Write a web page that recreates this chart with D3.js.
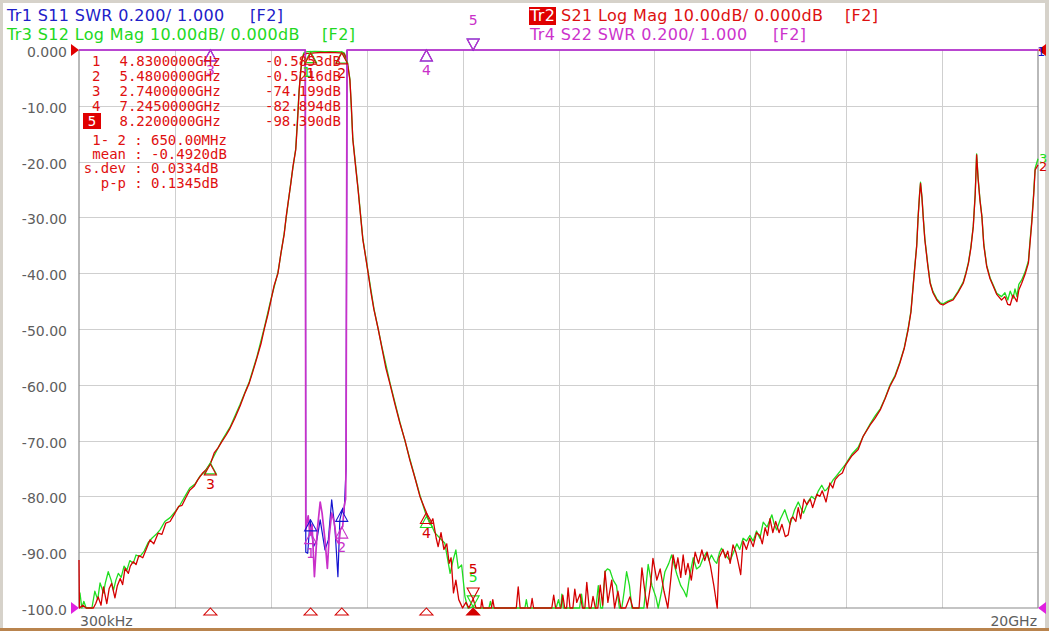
<!DOCTYPE html>
<html>
<head>
<meta charset="utf-8">
<script src="https://cdn.jsdelivr.net/npm/d3@7"></script>
<style>
  body { margin: 0; background: #fff; }
  svg { display: block; }
</style>
</head>
<body>
<script>
// sweep and axes
const startGHz = 0.0003;
const stopGHz = 20;
const xDivisions = 10;
const yTicks = [0, -10, -20, -30, -40, -50, -60, -70, -80, -90, -100];
const yTickLabels = ["0.000", "-10.00", "-20.00", "-30.00", "-40.00", "-50.00", "-60.00", "-70.00", "-80.00", "-90.00", "-100.0"];
const xLabels = ["300kHz", "20GHz"];

// Tr2 S21 log mag (GHz, dB)
const s21 = [
  [0.0003,-91.4],[0.01,-100],[0.08,-99.5],[0.15,-100],[0.23,-100],[0.30,-100],[0.35,-99.2],[0.40,-98],[0.46,-99.5],
  [0.51,-96.2],[0.58,-99.2],[0.63,-96.5],[0.68,-95.6],[0.75,-98.2],[0.80,-96],[0.86,-94.7],[0.91,-95.8],[0.96,-92.9],
  [1.03,-93.8],[1.07,-92.5],[1.13,-91.7],[1.19,-92.2],[1.25,-90.6],[1.33,-91],[1.40,-89.5],[1.48,-87.8],[1.56,-88.5],
  [1.65,-86.6],[1.73,-86.8],[1.81,-84.8],[1.90,-84.5],[1.98,-83.3],[2.08,-81.8],[2.15,-81.6],[2.23,-80.2],[2.31,-78.9],
  [2.40,-78.2],[2.48,-77],[2.57,-75.9],[2.65,-75.2],[2.74,-74.2],[2.82,-72.2],[2.90,-71.3],[2.98,-70.2],[3.07,-69.0],
  [3.15,-67.8],[3.25,-66],[3.36,-63.8],[3.46,-61.5],[3.55,-59.7],[3.63,-57.5],[3.71,-55.2],[3.80,-52.5],[3.87,-49.8],
  [3.94,-47.4],[4.00,-45],[4.07,-42.2],[4.15,-40],[4.21,-36.5],[4.28,-33],[4.32,-29.9],[4.37,-26.8],[4.42,-23.8],
  [4.46,-21],[4.52,-17.9],[4.56,-12.5],[4.59,-7.5],[4.62,-4],[4.65,-1.8],[4.69,-0.8],[4.76,-0.6],[4.83,-0.585],
  [4.92,-0.5],[5.03,-0.45],[5.13,-0.48],[5.23,-0.42],[5.34,-0.47],[5.44,-0.5],[5.48,-0.52],[5.53,-0.7],[5.57,-1.5],
  [5.61,-3],[5.65,-5.4],[5.68,-10],[5.71,-16],[5.77,-21],[5.82,-25],[5.87,-29.5],[5.92,-34],[5.98,-37.2],[6.03,-40],
  [6.09,-43.5],[6.15,-46.5],[6.24,-50],[6.32,-53.5],[6.40,-57],[6.49,-60],[6.59,-63.5],[6.69,-66.8],[6.80,-70],
  [6.90,-73.5],[7.01,-76.8],[7.11,-80],[7.17,-81.3],[7.245,-82.9],[7.32,-85],[7.38,-84],[7.45,-87.5],[7.49,-89],
  [7.55,-86.5],[7.61,-89.5],[7.67,-88.5],[7.72,-92],[7.76,-91],[7.81,-97.3],[7.86,-95],[7.92,-98.5],[8.00,-100],
  [8.07,-99],[8.13,-100],[8.22,-98.4],[8.28,-100],[8.38,-100],[8.40,-98.5],[8.43,-100],[8.60,-100],[8.63,-98.5],
  [8.66,-100],[9.12,-100],[9.16,-96.2],[9.20,-100],[9.42,-100],[9.45,-98.3],[9.48,-100],[9.86,-100],[9.90,-97.7],
  [9.94,-100],[10.05,-100],[10.09,-97.7],[10.13,-100],[10.17,-100],[10.20,-96.4],[10.24,-100],[10.30,-100],[10.34,-96.6],
  [10.38,-99],[10.45,-97.5],[10.50,-100],[10.55,-100],[10.59,-95.4],[10.64,-100],[10.68,-100],[10.72,-97.9],[10.77,-100],
  [10.82,-100],[10.87,-95.9],[10.92,-99.5],[10.97,-93.4],[11.03,-99],[11.11,-95],[11.17,-100],[11.24,-97],[11.30,-100],
  [11.40,-100],[11.49,-98],[11.55,-100],[11.68,-100],[11.74,-92.8],[11.80,-97],[11.85,-100],[11.92,-96],[11.97,-91.1],
  [12.05,-95],[12.12,-93],[12.20,-97],[12.28,-100],[12.34,-95],[12.39,-90.5],[12.45,-93],[12.49,-91],[12.55,-94.5],
  [12.60,-90.5],[12.65,-94],[12.70,-92],[12.77,-95],[12.85,-90],[12.92,-92],[12.99,-89.6],[13.05,-91.5],[13.10,-90],
  [13.17,-92.5],[13.24,-96],[13.31,-100],[13.35,-91],[13.43,-89.5],[13.48,-91],[13.53,-89.8],[13.58,-92],[13.64,-88.7],
  [13.70,-90],[13.74,-91.5],[13.80,-94],[13.85,-88],[13.92,-89.5],[13.99,-87.5],[14.06,-89],[14.13,-86.5],[14.20,-87],
  [14.25,-88.5],[14.31,-85.6],[14.36,-87],[14.41,-84],[14.47,-86.5],[14.53,-84.5],[14.60,-86.5],[14.66,-85],[14.73,-87.2],
  [14.79,-86.9],[14.85,-84],[14.89,-83.7],[14.95,-84.5],[15.00,-82],[15.05,-84],[15.12,-80.5],[15.18,-81.5],[15.25,-80.5],
  [15.30,-82],[15.39,-79.6],[15.45,-80],[15.50,-79],[15.58,-81],[15.66,-77.6],[15.72,-78.5],[15.77,-77],[15.85,-76.2],
  [15.92,-75.8],[15.98,-74.5],[16.12,-72.7],[16.25,-71.6],[16.35,-69.3],[16.50,-67.2],[16.60,-66],[16.71,-64.5],
  [16.81,-62.5],[16.91,-60.3],[17.02,-58.5],[17.12,-56.1],[17.21,-53.5],[17.29,-50.2],[17.35,-47],[17.39,-43],
  [17.43,-39],[17.47,-35.2],[17.50,-30],[17.53,-26],[17.55,-23.9],[17.58,-26.5],[17.61,-30.5],[17.64,-34],[17.70,-38.5],
  [17.75,-41.8],[17.81,-43.5],[17.89,-44.8],[17.96,-45.5],[18.02,-45.7],[18.12,-45.2],[18.23,-44.8],[18.33,-43.5],
  [18.44,-41.8],[18.50,-40],[18.55,-38.2],[18.60,-35.5],[18.65,-31.7],[18.69,-26],[18.72,-18.8],[18.75,-23],[18.79,-27],
  [18.83,-29.9],[18.87,-35],[18.93,-38.8],[19.00,-41],[19.07,-42.4],[19.14,-43.8],[19.24,-44.8],[19.31,-44.2],
  [19.37,-45.6],[19.42,-45.7],[19.48,-43.9],[19.56,-45.1],[19.60,-43],[19.66,-41.8],[19.73,-40.2],[19.80,-38.2],
  [19.83,-35],[19.87,-31],[19.91,-26],[19.94,-21.5],[20.00,-20.6]
];

// Tr3 S12 log mag (GHz, dB)
const s12 = [
  [0.0003,-97.3],[0.02,-97.3],[0.06,-100],[0.10,-98.8],[0.15,-100],[0.27,-100],[0.33,-97],[0.39,-98.5],[0.44,-95.5],
  [0.51,-97.3],[0.55,-95.5],[0.61,-93.5],[0.67,-95],[0.72,-96.8],[0.77,-95],[0.82,-93.8],[0.88,-94.5],[0.94,-92.5],
  [1.00,-93.2],[1.06,-91.5],[1.13,-92],[1.19,-90.5],[1.27,-90.8],[1.36,-89.8],[1.44,-88.3],[1.52,-87.5],[1.61,-86.8],
  [1.69,-86],[1.79,-84.5],[1.90,-83.8],[2.00,-82.8],[2.11,-81.5],[2.21,-80],[2.31,-78.5],[2.42,-77.8],[2.52,-76.4],
  [2.63,-75.5],[2.74,-74.0],[2.86,-72],[2.98,-70],[3.15,-67.6],[3.36,-63.5],[3.55,-59.5],[3.71,-55],[3.87,-49.6],
  [4.00,-44.8],[4.15,-39.8],[4.28,-32.8],[4.42,-23.6],[4.52,-17.7],[4.59,-7.3],[4.65,-1.6],[4.69,-0.5],[4.76,-0.3],
  [4.92,-0.25],[5.13,-0.3],[5.34,-0.28],[5.48,-0.35],[5.53,-0.5],[5.57,-1.3],[5.61,-2.8],[5.65,-5.2],[5.71,-15.8],
  [5.82,-24.8],[5.92,-33.8],[6.03,-39.8],[6.15,-46.3],[6.32,-53.3],[6.49,-59.8],[6.69,-66.6],[6.90,-73.3],[7.11,-79.8],
  [7.245,-83.5],[7.32,-84.5],[7.42,-86.5],[7.53,-87.5],[7.63,-88.4],[7.74,-93.8],[7.80,-91.5],[7.86,-89.6],[7.91,-92.9],
  [7.98,-92.3],[8.05,-98],[8.11,-100],[8.22,-99.8],[8.28,-100],[8.55,-100],[8.58,-98.8],[8.61,-100],[9.30,-100],
  [9.33,-98.5],[9.36,-100],[9.95,-100],[10.00,-98.5],[10.04,-100],[10.05,-100],[10.07,-97.5],[10.10,-100],[10.44,-100],
  [10.48,-97.5],[10.52,-100],[10.78,-100],[10.83,-96],[10.88,-100],[10.92,-100],[10.97,-93.5],[11.02,-93],[11.07,-93.2],
  [11.14,-95],[11.21,-96],[11.27,-100],[11.32,-100],[11.37,-97],[11.42,-93.5],[11.48,-96],[11.53,-100],[11.78,-100],
  [11.87,-92.2],[11.95,-96],[12.03,-98],[12.08,-100],[12.15,-97],[12.22,-93.5],[12.30,-92],[12.36,-90.5],[12.42,-92.5],
  [12.47,-94],[12.55,-96],[12.62,-97],[12.67,-98],[12.74,-94],[12.81,-91],[12.88,-93],[12.95,-92.5],[13.02,-91],
  [13.09,-90],[13.14,-91.5],[13.19,-90.5],[13.25,-91.5],[13.30,-92],[13.36,-90],[13.40,-89.3],[13.48,-90.5],[13.58,-91.5],
  [13.65,-90],[13.72,-88.5],[13.78,-89.5],[13.85,-87.5],[13.92,-88],[13.99,-87],[14.06,-88],[14.13,-86.2],[14.20,-87.5],
  [14.27,-84.6],[14.35,-85.5],[14.45,-83.3],[14.50,-85],[14.55,-86],[14.63,-84],[14.72,-82.4],[14.78,-84],[14.83,-85],
  [14.92,-82.5],[15.00,-81],[15.05,-82],[15.11,-83],[15.20,-81],[15.28,-80],[15.35,-80.5],[15.42,-79],[15.49,-78],
  [15.55,-79],[15.59,-78.8],[15.66,-78],[15.73,-77],[15.80,-76.3],[15.87,-75.5],[15.98,-74.3],[16.12,-72.4],[16.25,-71.2],
  [16.35,-69.3],[16.50,-67],[16.60,-65.6],[16.71,-64.3],[16.81,-62.4],[16.91,-60.1],[17.02,-58.3],[17.12,-55.9],
  [17.21,-53.4],[17.29,-50],[17.35,-46.8],[17.39,-42.8],[17.43,-38.8],[17.47,-35],[17.50,-29.8],[17.53,-25.8],
  [17.55,-23.7],[17.58,-26.3],[17.61,-30.3],[17.64,-33.8],[17.70,-38.3],[17.75,-41.6],[17.81,-43.3],[17.89,-44.6],
  [17.96,-45.3],[18.02,-45.5],[18.12,-45],[18.23,-44.6],[18.33,-43.3],[18.44,-41.6],[18.50,-39.8],[18.55,-38],
  [18.60,-35.3],[18.65,-31.5],[18.69,-25.8],[18.72,-18.6],[18.75,-22.8],[18.79,-26.8],[18.83,-29.7],[18.87,-34.8],
  [18.93,-38.6],[19.00,-40.8],[19.07,-42.2],[19.14,-43.6],[19.24,-44.2],[19.31,-43.5],[19.37,-44.8],[19.42,-43.2],
  [19.48,-44.5],[19.52,-42.8],[19.56,-44.2],[19.60,-42],[19.66,-41.2],[19.73,-39.8],[19.80,-37.8],[19.83,-34.6],
  [19.87,-30.6],[19.91,-25.6],[19.94,-21.2],[20.00,-19.5]
];

// Tr1 S11 SWR (GHz, SWR) - off scale outside the passband
const s11 = [
  [0.0003,8],[4.72,8],[4.73,1.20],[4.77,1.196],[4.82,1.316],[4.89,1.22],[4.96,1.244],[5.03,1.316],[5.13,1.208],
  [5.20,1.244],[5.27,1.388],[5.34,1.28],[5.40,1.112],[5.44,1.316],[5.50,1.358],[5.53,1.34],[5.57,1.50],[5.59,8],[20,8]
];

// Tr4 S22 SWR (GHz, SWR)
const s22 = [
  [0.0003,8],[4.72,8],[4.73,1.28],[4.78,1.33],[4.82,1.26],[4.86,1.30],[4.91,1.112],[4.97,1.28],[5.03,1.38],[5.07,1.34],
  [5.13,1.244],[5.18,1.142],[5.22,1.26],[5.27,1.34],[5.32,1.31],[5.37,1.244],[5.42,1.23],[5.45,1.28],[5.50,1.292],
  [5.53,1.364],[5.56,1.39],[5.57,1.542],[5.59,8],[20,8]
];

// markers
const markerNums = ["1", "2", "3", "4", "5"];
const markerGHz = [4.83, 5.48, 2.74, 7.245, 8.22];
const markerFreqLabels = ["4.8300000GHz", "5.4800000GHz", "2.7400000GHz", "7.2450000GHz", "8.2200000GHz"];
const markerS21 = [-0.5853, -0.5216, -74.199, -82.894, -98.390];
const markerValueLabels = ["-0.5853dB", "-0.5216dB", "-74.199dB", "-82.894dB", "-98.390dB"];
const markerS12 = [-0.30, -0.35, -74.0, -83.6, -99.8];
const markerS11 = [1.316, 1.35, 8, 8, 8];
const markerS22 = [1.27, 1.29, 8, 8, 8];
const activeMarker = 4;

// band statistics
const statLabels = ["1- 2", "mean", "s.dev", "p-p"];
const statValues = ["650.00MHz", "-0.4920dB", "0.0334dB", "0.1345dB"];

// header lines
const headerLeft = [
  { text: "Tr1 S11 SWR 0.200/ 1.000", color: "#2020c8" },
  { text: "Tr3 S12 Log Mag 10.00dB/ 0.000dB", color: "#22d822" }
];
const headerRight = [
  { tag: "Tr2", text: "S21 Log Mag 10.00dB/ 0.000dB", color: "#dd1010" },
  { tag: "Tr4", text: "S22 SWR 0.200/ 1.000", color: "#cc33cc" }
];

const colors = { s11: "#1414d0", s21: "#d40000", s12: "#20dd20", s22: "#c930c9" };

const W = 1049, H = 631;
const plot = { left: 79, right: 1038, top: 50, bottom: 608 };

const svg = d3.select("body").append("svg").attr("width", W).attr("height", H)
  .style("font-family", "'DejaVu Sans', Verdana, sans-serif");

// window frame
svg.append("rect").attr("width", W).attr("height", H).attr("fill", "#d6d2ca");
svg.append("rect").attr("x", 3).attr("y", 3).attr("width", W - 7).attr("height", H - 6).attr("fill", "#fff");
svg.append("rect").attr("x", 0).attr("y", H - 3).attr("width", W).attr("height", 3).attr("fill", "#b9844e");

const x = d3.scaleLinear().domain([startGHz, stopGHz]).range([plot.left, plot.right]);
const yDb = d3.scaleLinear().domain([-100, 0]).range([plot.bottom, plot.top]).clamp(true);
const ySwr = d3.scaleLinear().domain([1, 3]).range([plot.bottom, plot.top]).clamp(true);

// grid
const step = (stopGHz - startGHz) / xDivisions;
const grid = svg.append("g").attr("stroke", "#cfcfcf").attr("stroke-width", 1);
grid.selectAll("line.v").data(d3.range(1, xDivisions)).join("line")
  .attr("x1", k => Math.round(x(startGHz + k * step)) + 0.5)
  .attr("x2", k => Math.round(x(startGHz + k * step)) + 0.5)
  .attr("y1", plot.top).attr("y2", plot.bottom);
grid.selectAll("line.h").data(yTicks.slice(1, -1)).join("line")
  .attr("y1", d => Math.round(yDb(d)) + 0.5).attr("y2", d => Math.round(yDb(d)) + 0.5)
  .attr("x1", plot.left).attr("x2", plot.right);

// frame
const frame = svg.append("g").attr("stroke", "#8a8a8a").attr("stroke-width", 1.2).attr("fill", "none");
frame.append("line").attr("x1", plot.left).attr("x2", plot.left).attr("y1", plot.top).attr("y2", plot.bottom);
frame.append("line").attr("x1", plot.right).attr("x2", plot.right).attr("y1", plot.top).attr("y2", plot.bottom);
frame.append("line").attr("x1", plot.left).attr("x2", plot.right).attr("y1", plot.bottom).attr("y2", plot.bottom);

// y axis labels
const yAxis = svg.append("g").attr("transform", `translate(${plot.left},0)`)
  .call(d3.axisLeft(yDb).tickValues(yTicks).tickFormat((d, i) => yTickLabels[i]).tickSize(0).tickPadding(12));
yAxis.select(".domain").remove();
yAxis.selectAll("text").attr("fill", "#5e5e5e").attr("font-size", 14)
  .attr("font-family", "'DejaVu Sans', Verdana, sans-serif").attr("dy", "0.46em");

// x labels
svg.append("text").attr("x", x(startGHz) + 1).attr("y", 626).attr("font-size", 14).attr("fill", "#5e5e5e").text(xLabels[0]);
svg.append("text").attr("x", x(stopGHz) - 1).attr("y", 626).attr("font-size", 14).attr("fill", "#5e5e5e")
  .attr("text-anchor", "end").text(xLabels[1]);

// traces
const lineDb = d3.line().x(d => x(d[0])).y(d => yDb(d[1]));
const lineSwr = d3.line().x(d => x(d[0])).y(d => ySwr(d[1]));
const traces = svg.append("g").attr("fill", "none").attr("stroke-linejoin", "round");
traces.append("path").datum(s11).attr("d", lineSwr).attr("stroke", colors.s11).attr("stroke-width", 1.2);
traces.append("path").datum(s12).attr("d", lineDb).attr("stroke", colors.s12).attr("stroke-width", 1.3);
traces.append("path").datum(s21).attr("d", lineDb).attr("stroke", colors.s21).attr("stroke-width", 1.3);
traces.append("path").datum(s22).attr("d", lineSwr).attr("stroke", colors.s22).attr("stroke-width", 1.7);

// marker symbols
const mk = svg.append("g").attr("font-size", 14).attr("text-anchor", "middle");
function markUp(px, py, color, label, dx) {
  mk.append("path").attr("d", `M${px},${py} l-6,11 h12 z`).attr("fill", "none").attr("stroke", color).attr("stroke-width", 1.1);
  if (label) mk.append("text").attr("x", px + dx).attr("y", py + 25).attr("fill", color).text(label);
}
function markDown(px, py, color, label, dx) {
  mk.append("path").attr("d", `M${px},${py} l-6,-11 h12 z`).attr("fill", "none").attr("stroke", color).attr("stroke-width", 1.1);
  if (label) mk.append("text").attr("x", px + dx).attr("y", py - 25).attr("fill", color).text(label);
}
// showLabel: which marker numbers are visible for that trace
function drawMarkers(values, scale, color, showLabel, dx) {
  values.forEach((v, i) => {
    const px = x(markerGHz[i]), py = scale(v);
    const label = showLabel[i] ? markerNums[i] : null;
    if (i === activeMarker) markDown(px, py, color, label, 0);
    else markUp(px, py, color, label, dx);
  });
}
drawMarkers(markerS11, ySwr, colors.s11, [false, false, false, false, false], 0);
drawMarkers(markerS22, ySwr, colors.s22, [true, true, true, true, true], 0);
drawMarkers(markerS12, yDb, colors.s12, [true, false, false, false, true], -4);
drawMarkers(markerS21, yDb, colors.s21, [true, true, true, true, true], 0);

// marker positions on the frequency axis
markerGHz.forEach((f, i) => {
  const px = x(f);
  svg.append("path").attr("d", `M${px},${plot.bottom} l-6.5,7 h13 z`)
    .attr("fill", i === activeMarker ? colors.s21 : "none")
    .attr("stroke", colors.s21).attr("stroke-width", 1.1);
});

// reference level indicators
function refArrows(py, color) {
  svg.append("path").attr("d", `M${plot.left - 8},${py - 6} L${plot.left},${py} L${plot.left - 8},${py + 6} Z`).attr("fill", color);
  svg.append("path").attr("d", `M${plot.right + 8},${py - 6} L${plot.right},${py} L${plot.right + 8},${py + 6} Z`).attr("fill", color);
}
refArrows(yDb(0), "#e00000");
refArrows(ySwr(1), "#e020e0");

// trace end labels
const ends = svg.append("g").attr("font-size", 13);
ends.append("text").attr("x", plot.right - 1).attr("y", ySwr(8) + 6).attr("fill", colors.s11).text("1");
ends.append("text").attr("x", plot.right + 1).attr("y", yDb(s12[s12.length - 1][1]) + 4).attr("fill", colors.s12).text("3");
ends.append("text").attr("x", plot.right + 1).attr("y", yDb(s21[s21.length - 1][1]) + 6).attr("fill", colors.s21).text("2");

// header
const hdr = svg.append("g").attr("font-size", 16).attr("letter-spacing", 0.35);
headerLeft.forEach((h, i) => {
  hdr.append("text").attr("x", 7).attr("y", 21 + i * 18.5).attr("fill", h.color).text(h.text);
  hdr.append("text").attr("x", i === 0 ? 250 : 322).attr("y", 21 + i * 18.5).attr("fill", h.color).text("[F2]");
});
headerRight.forEach((h, i) => {
  const yy = 21 + i * 18.5;
  if (i === 0) {
    hdr.append("rect").attr("x", 529).attr("y", yy - 14).attr("width", 27).attr("height", 18).attr("fill", "#e00000");
    hdr.append("text").attr("x", 530).attr("y", yy).attr("fill", "#fff").text(h.tag);
    hdr.append("text").attr("x", 561).attr("y", yy).attr("fill", h.color).text(h.text);
    hdr.append("text").attr("x", 845).attr("y", yy).attr("fill", h.color).text("[F2]");
  } else {
    hdr.append("text").attr("x", 530).attr("y", yy).attr("fill", h.color).text(h.tag + " " + h.text);
    hdr.append("text").attr("x", 773).attr("y", yy).attr("fill", h.color).text("[F2]");
  }
});

// marker table
const tbl = svg.append("g").attr("font-family", "'DejaVu Sans Mono', monospace").attr("font-size", 14).attr("fill", "#e01010");
markerNums.forEach((n, i) => {
  const yy = 66 + i * 15;
  if (i === activeMarker) {
    tbl.append("rect").attr("x", 83).attr("y", yy - 13).attr("width", 18).attr("height", 16).attr("fill", "#e00000");
    tbl.append("text").attr("x", 92).attr("y", yy).attr("fill", "#fff").attr("text-anchor", "middle").text(n);
  } else {
    tbl.append("text").attr("x", 92).attr("y", yy).attr("text-anchor", "start").text(n);
  }
  tbl.append("text").attr("x", 119.5).attr("y", yy).text(markerFreqLabels[i]);
  tbl.append("text").attr("x", 265).attr("y", yy).text(markerValueLabels[i]);
});
statLabels.forEach((s, i) => {
  const yy = 145 + i * 14.2;
  tbl.append("text").attr("x", 126).attr("y", yy).attr("text-anchor", "end").text(s);
  tbl.append("text").attr("x", 138.4).attr("y", yy).attr("text-anchor", "middle").text(":");
  tbl.append("text").attr("x", 151).attr("y", yy).text(statValues[i]);
});
</script>
</body>
</html>
